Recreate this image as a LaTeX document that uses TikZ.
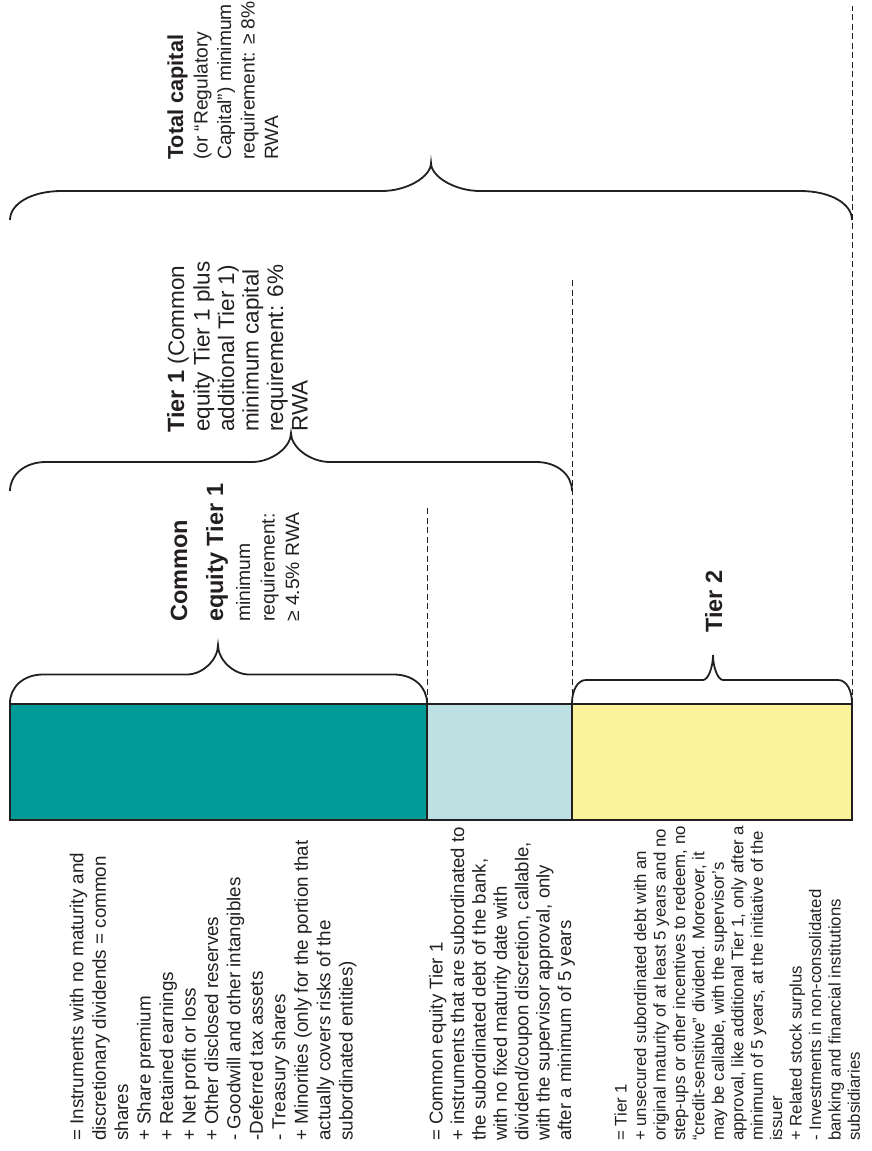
\documentclass[tikz,border=0pt]{standalone}
\usepackage{fontspec}
\setmainfont{Liberation Sans}
\definecolor{inkgray}{HTML}{231F20}
\definecolor{cetteal}{HTML}{009A97}
\definecolor{atone}{HTML}{BDE0E3}
\definecolor{tiertwo}{HTML}{FAF39B}

% font sizes of the different text groups
\newcommand{\colAfont}{\fontsize{18.8}{22}\selectfont}
\newcommand{\colBfont}{\fontsize{18.6}{22}\selectfont}
\newcommand{\colCfont}{\fontsize{16.8}{19}\selectfont}
\newcommand{\headbold}{\bfseries\fontsize{23.5}{24}\selectfont}
\newcommand{\headreg}{\fontsize{19.3}{22}\selectfont}
\newcommand{\tonefont}{\fontsize{22.5}{24}\selectfont}

% horizontal curly brace opening downwards
% #1 left x, #2 right x, #3 tip x, #4 end y, #5 level y, #6 tip y, #7 corner run, #8 tip run
\newcommand{\capbrace}[8]{%
  \draw[bracestyle]
    (#1,-#4) .. controls ({#1},{-#5-0.45*(#4-#5)}) and ({#1+0.4*#7},-#5) .. ({#1+#7},-#5)
    -- ({#3-#8},-#5) .. controls ({#3-0.5*#8},-#5) and ({#3},{-#5+0.5*(#5-#6)}) .. (#3,-#6)
    .. controls ({#3},{-#5+0.5*(#5-#6)}) and ({#3+0.5*#8},-#5) .. ({#3+#8},-#5)
    -- ({#2-#7},-#5) .. controls ({#2-0.4*#7},-#5) and ({#2},{-#5-0.45*(#4-#5)}) .. (#2,-#4);
}

\begin{document}
\begin{tikzpicture}[x=1pt,y=1pt,
  bar/.style={draw=inkgray, line width=1.4pt, anchor=north west, inner sep=0pt,
    outer sep=0pt, minimum height=116pt},
  guide/.style={draw=inkgray, line width=0.8pt, dash pattern=on 6pt off 3.5pt},
  bracestyle/.style={draw=inkgray, line width=1.8pt},
  vtext/.style={rotate=90, anchor=base west, inner sep=0pt, text=inkgray}
]
\useasboundingbox (0,0) rectangle (871,-1151);

% capital bar
\node[bar, fill=cetteal, minimum width=417pt] (cet) at (10,-704) {};
\node[bar, fill=atone, minimum width=145pt] (at1) at (427,-704) {};
\node[bar, fill=tiertwo, minimum width=280pt] (t2) at (572,-704) {};

% dashed guides
\coordinate (g1) at (427,-505);
\coordinate (g2) at (572,-278);
\coordinate (g3) at (852,-6);
\draw[guide] (cet.north east) -- (g1);
\draw[guide] (at1.north east) -- (g2);
\draw[guide] (t2.north east) -- (g3);

% braces
\capbrace{10}{427}{218}{703}{674.5}{645}{33}{31}
\capbrace{572}{852}{713}{703}{680}{655}{14}{10}
\capbrace{10}{572}{291}{491}{462}{433}{36}{39}
\capbrace{10}{852}{431}{220}{191}{163}{52}{49}

% labels of the braces
\node[vtext, font=\headbold] (cetA) at (187,-622) {Common};
\node[vtext, font=\headbold] (cetB) at (223,-622) {equity Tier 1};
\node[vtext, font=\headreg] (cetC) at (250,-622) {minimum};
\node[vtext, font=\headreg] (cetD) at (274.5,-622) {requirement:};
\node[vtext, font=\headreg] (cetE) at (299,-622) {≥ 4.5\% RWA};

\node[vtext, font=\tonefont] (toneA) at (184,-433) {{\headbold Tier 1} (Common};
\node[vtext, font=\tonefont] (toneB) at (209.5,-432) {equity Tier 1 plus};
\node[vtext, font=\tonefont] (toneC) at (234,-432) {additional Tier 1)};
\node[vtext, font=\tonefont] (toneD) at (258.5,-432) {minimum capital};
\node[vtext, font=\tonefont] (toneE) at (283,-432) {requirement: 6\%};
\node[vtext, font=\tonefont] (toneF) at (307.5,-432) {RWA};

\node[vtext, font=\bfseries\fontsize{21.7}{23}\selectfont] (totA) at (183,-160) {Total capital};
\node[vtext, font=\fontsize{19.2}{22}\selectfont] (totB) at (207.5,-160) {(or “Regulatory};
\node[vtext, font=\fontsize{19.2}{22}\selectfont] (totC) at (231,-160) {Capital”) minimum};
\node[vtext, font=\fontsize{19.2}{22}\selectfont] (totD) at (254.5,-160) {requirement: ≥ 8\%};
\node[vtext, font=\fontsize{19.2}{22}\selectfont] (totE) at (278,-160) {RWA};

\node[vtext, font=\headbold] (ttwo) at (722,-633) {Tier 2};

% composition of common equity Tier 1
\foreach \lineitem [count=\i from 0] in {
  {= Instruments with no maturity and},
  {discretionary dividends = common},
  {shares},
  {+ Share premium},
  {+ Retained earnings},
  {+ Net profit or loss},
  {+ Other disclosed reserves},
  {- Goodwill and other intangibles},
  {-Deferred tax assets},
  {- Treasury shares},
  {+ Minorities (only for the portion that},
  {actually covers risks of the},
  {subordinated entities)}}{
  \node[vtext, font=\colAfont] (colA-\i) at (83.3+22.45*\i,-1141) {\lineitem};
}

% composition of Tier 1
\foreach \lineitem [count=\i from 0] in {
  {= Common equity Tier 1},
  {+ instruments that are subordinated to},
  {the subordinated debt of the bank,},
  {with no fixed maturity date with},
  {dividend/coupon discretion, callable,},
  {with the supervisor approval, only},
  {after a minimum of 5 years}}{
  \node[vtext, font=\colBfont] (colB-\i) at (442.7+21.4*\i,-1141) {\lineitem};
}

% composition of total capital
\foreach \lineitem [count=\i from 0] in {
  {= Tier 1},
  {+ unsecured subordinated debt with an},
  {original maturity of at least 5 years and no},
  {step-ups or other incentives to redeem, no},
  {“credit-sensitive” dividend. Moreover, it},
  {may be callable, with the supervisor’s},
  {approval, like additional Tier 1, only after a},
  {minimum of 5 years, at the initiative of the},
  {issuer},
  {+ Related stock surplus},
  {- Investments in non-consolidated},
  {banking and financial institutions},
  {subsidiaries}}{
  \node[vtext, font=\colCfont] (colC-\i) at (626.7+19.44*\i,-1141) {\lineitem};
}
\end{tikzpicture}
\end{document}
